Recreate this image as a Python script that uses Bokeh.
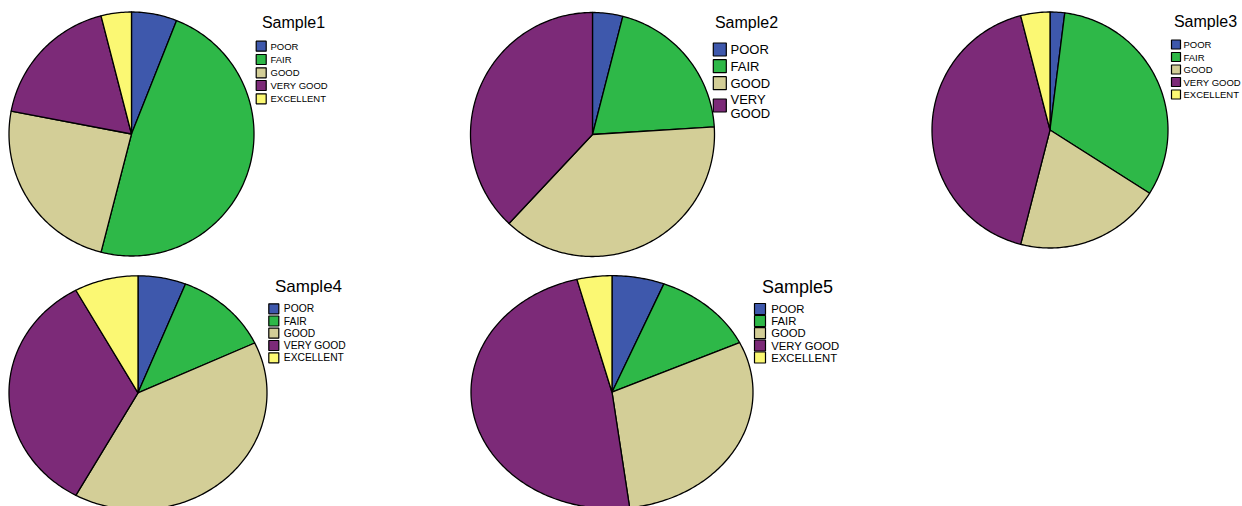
import numpy as np
from bokeh.plotting import figure
from bokeh.models import Range1d
from bokeh.core.properties import value
from bokeh.embed import file_html
from bokeh.resources import INLINE

# ---------------- data ----------------
categories = ["POOR", "FAIR", "GOOD", "VERY GOOD", "EXCELLENT"]
colors = ["#3E58AC", "#2EB848", "#D3CE97", "#7C2A78", "#FBF873"]
sample_names = ["Sample1", "Sample2", "Sample3", "Sample4", "Sample5"]
sample1 = [3, 24, 12, 9, 2]
sample2 = [2, 10, 19, 19, 0]
sample3 = [1, 16, 10, 21, 2]
sample4 = [3, 6, 20, 17, 4]
sample5 = [3, 6, 15, 24, 2]
samples = [sample1, sample2, sample3, sample4, sample5]

# ---------------- layout (page pixel coordinates) ----------------
W, H = 1242, 506
def X(xp):
    return xp
def Y(yp):
    return H - yp

# pie centre x, centre y, radius x, radius y
pie_geom = [
    (131.0, 133.5, 122.5, 122.0),
    (592.0, 134.0, 122.0, 122.0),
    (1049.5, 129.5, 118.0, 118.0),
    (137.5, 392.3, 129.0, 117.0),
    (611.5, 391.7, 141.0, 116.5),
]
# title centre x, y, font size
title_geom = [
    (293.0, 22.0, 16),
    (746.0, 22.0, 16),
    (1205.0, 21.0, 16),
    (308.0, 286.0, 17),
    (797.0, 286.0, 18),
]
# legend: box centre x, box size, text x, row y's, font size
legend_geom = [
    (260.7, 10, 270.0, [45.7, 59.0, 72.3, 85.0, 98.3], 9.5),
    (719.3, 13, 730.0, [49.0, 65.7, 82.7, 106.0], 13),
    (1175.5, 9, 1183.0, [44.0, 56.5, 69.0, 81.5, 94.0], 9.5),
    (273.3, 10, 283.3, [308.3, 320.5, 332.7, 345.0, 357.3], 10.3),
    (759.5, 11, 770.7, [308.5, 320.5, 332.7, 345.0, 357.0], 11.3),
]

p = figure(width=W, height=H, output_backend="svg", toolbar_location=None,
           x_range=Range1d(0, W), y_range=Range1d(0, H), min_border=0)
p.axis.visible = False
p.grid.visible = False
p.outline_line_color = None
p.background_fill_color = "white"
p.border_fill_color = "white"

font = value("Liberation Sans")

for si, counts in enumerate(samples):
    cx, cy, rx, ry = pie_geom[si]
    total = float(sum(counts))
    cum = np.concatenate([[0.0], np.cumsum(counts)]) / total * 2 * np.pi
    xs, ys, fc = [], [], []
    for k, c in enumerate(counts):
        if c == 0:
            continue
        a0, a1 = cum[k], cum[k + 1]
        n = max(4, int((a1 - a0) / (2 * np.pi) * 400))
        th = np.linspace(a0, a1, n)
        px = np.concatenate([[cx], cx + rx * np.sin(th)])
        py = np.concatenate([[cy], cy - ry * np.cos(th)])
        xs.append(list(X(px)))
        ys.append(list(Y(py)))
        fc.append(colors[k])
    p.patches(xs=xs, ys=ys, fill_color=fc, line_color="black", line_width=1.3,
              line_join="round")

    # title
    tx, ty, tfs = title_geom[si]
    p.text(x=[X(tx)], y=[Y(ty)], text=[sample_names[si]], text_font=font,
           text_font_size=f"{tfs}px", text_align="center", text_baseline="middle",
           text_color="black")

    # legend
    bx, bs, txx, rows, fs = legend_geom[si]
    labels = [c for c, v in zip(categories, counts) if v > 0]
    lcols = [colors[categories.index(c)] for c in labels]
    if si == 1:
        labels = [l.replace("VERY GOOD", "VERY\nGOOD") for l in labels]
    box_rows = list(rows)
    if si == 1:
        box_rows[3] = rows[3] - 1
    p.rect(x=[X(bx)] * len(labels), y=[Y(r) for r in box_rows], width=bs, height=bs,
           width_units="screen", height_units="screen", fill_color=lcols,
           line_color="black", line_width=1.2)
    p.text(x=[X(txx)] * len(labels), y=[Y(r) for r in rows], text=labels,
           text_font=font, text_font_size=f"{fs}px", text_align="left",
           text_baseline="middle", text_color="black", text_line_height=0.95)

open("out.html", "w").write(file_html(p, INLINE))
